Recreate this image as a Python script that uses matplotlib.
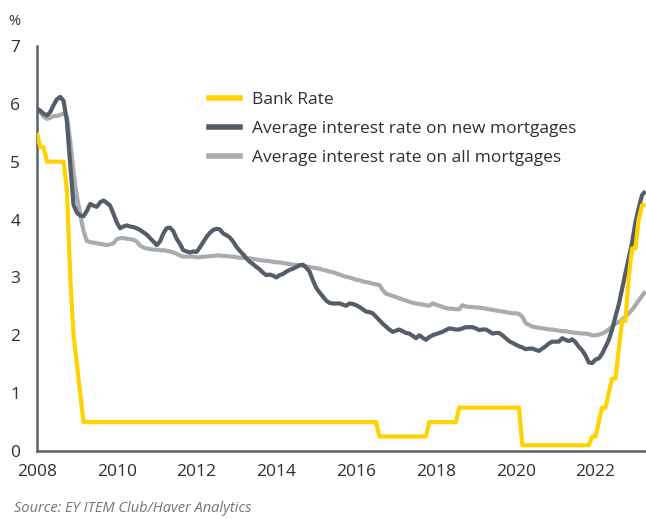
import matplotlib
matplotlib.use("Agg")
import matplotlib.pyplot as plt
import numpy as np

plt.rcParams["font.family"] = ["Open Sans", "DejaVu Sans"]

# monthly, Jan 2008 .. Apr 2023
bank_rate = (
    [5.5, 5.25, 5.25, 5.0, 5.0, 5.0, 5.0, 5.0, 5.0, 4.5, 3.0, 2.0]      # 2008
    + [1.5, 1.0] + [0.5] * 10                                          # 2009
    + [0.5] * 72                                                       # 2010-2015
    + [0.5] * 7 + [0.25] * 5                                           # 2016
    + [0.25] * 10 + [0.5] * 2                                          # 2017
    + [0.5] * 7 + [0.75] * 5                                           # 2018
    + [0.75] * 12                                                      # 2019
    + [0.75] * 2 + [0.1] * 10                                          # 2020
    + [0.1] * 11 + [0.25]                                              # 2021
    + [0.25, 0.5, 0.75, 0.75, 1.0, 1.25, 1.25, 1.75, 2.25, 2.25, 3.0, 3.5]  # 2022
    + [3.5, 4.0, 4.25, 4.25]                                           # 2023
)

new_mortgages = [
    5.92, 5.88, 5.83, 5.80, 5.86, 5.98, 6.08, 6.12, 6.05, 5.70, 4.95, 4.25,
    4.12, 4.07, 4.06, 4.15, 4.27, 4.24, 4.22, 4.30, 4.33, 4.29, 4.24, 4.10,
    3.95, 3.85, 3.88, 3.90, 3.88, 3.87, 3.85, 3.82, 3.78, 3.74, 3.68, 3.62,
    3.56, 3.62, 3.76, 3.85, 3.86, 3.80, 3.67, 3.58, 3.47, 3.45, 3.43, 3.45,
    3.44, 3.52, 3.61, 3.70, 3.77, 3.82, 3.84, 3.83, 3.76, 3.73, 3.69, 3.62,
    3.53, 3.46, 3.40, 3.33, 3.27, 3.23, 3.18, 3.14, 3.08, 3.04, 3.05, 3.03,
    3.00, 3.04, 3.06, 3.10, 3.13, 3.15, 3.18, 3.21, 3.22, 3.17, 3.10, 2.95,
    2.82, 2.74, 2.67, 2.60, 2.56, 2.55, 2.55, 2.55, 2.53, 2.51, 2.55, 2.54,
    2.52, 2.49, 2.45, 2.41, 2.40, 2.38, 2.32, 2.26, 2.20, 2.15, 2.10, 2.06,
    2.08, 2.10, 2.07, 2.04, 2.03, 1.99, 1.95, 2.00, 1.96, 1.92, 1.97, 2.00,
    2.02, 2.04, 2.06, 2.09, 2.12, 2.11, 2.10, 2.10, 2.12, 2.14, 2.14, 2.14,
    2.12, 2.09, 2.10, 2.10, 2.07, 2.03, 2.04, 2.04, 2.00, 1.95, 1.90, 1.87,
    1.84, 1.81, 1.79, 1.76, 1.77, 1.77, 1.75, 1.73, 1.77, 1.81, 1.86, 1.89,
    1.89, 1.89, 1.95, 1.92, 1.90, 1.93, 1.88, 1.80, 1.74, 1.65, 1.53, 1.52,
    1.58, 1.60, 1.68, 1.80, 1.92, 2.10, 2.32, 2.53, 2.80, 3.07, 3.33, 3.60,
    3.95, 4.20, 4.42, 4.49,
]

all_mortgages = [
    5.90, 5.85, 5.78, 5.74, 5.76, 5.79, 5.79, 5.81, 5.83, 5.78, 5.35, 4.80,
    4.40, 4.10, 3.80, 3.63, 3.61, 3.60, 3.59, 3.58, 3.57, 3.56, 3.57, 3.59,
    3.66, 3.68, 3.68, 3.67, 3.66, 3.65, 3.62, 3.55, 3.52, 3.50, 3.49, 3.48,
    3.48, 3.47, 3.47, 3.46, 3.45, 3.43, 3.41, 3.38, 3.36, 3.36, 3.36, 3.36,
    3.35, 3.35, 3.36, 3.36, 3.37, 3.37, 3.38, 3.38, 3.37, 3.37, 3.36, 3.36,
    3.35, 3.34, 3.34, 3.33, 3.33, 3.32, 3.31, 3.30, 3.29, 3.29, 3.28, 3.27,
    3.26, 3.26, 3.25, 3.24, 3.23, 3.22, 3.22, 3.21, 3.20, 3.19, 3.18, 3.17,
    3.16, 3.15, 3.13, 3.12, 3.10, 3.09, 3.07, 3.05, 3.03, 3.01, 3.00, 2.98,
    2.96, 2.95, 2.93, 2.92, 2.91, 2.89, 2.88, 2.87, 2.78, 2.72, 2.70, 2.68,
    2.66, 2.64, 2.62, 2.60, 2.58, 2.56, 2.55, 2.54, 2.53, 2.52, 2.51, 2.55,
    2.53, 2.51, 2.49, 2.47, 2.46, 2.46, 2.45, 2.45, 2.52, 2.50, 2.49, 2.49,
    2.48, 2.48, 2.47, 2.46, 2.45, 2.44, 2.43, 2.42, 2.41, 2.40, 2.39, 2.38,
    2.38, 2.37, 2.32, 2.21, 2.18, 2.15, 2.14, 2.13, 2.12, 2.11, 2.10, 2.10,
    2.09, 2.08, 2.07, 2.07, 2.06, 2.05, 2.04, 2.04, 2.03, 2.03, 2.02, 2.00,
    2.00, 2.01, 2.03, 2.06, 2.10, 2.15, 2.20, 2.23, 2.27, 2.32, 2.38, 2.44,
    2.52, 2.60, 2.68, 2.76,
]

labels = ["Bank Rate", "Average interest rate on new mortgages",
          "Average interest rate on all mortgages"]
colors = ["#ffd200", "#545d68", "#a9acaf"]
year_ticks = list(range(2008, 2024, 2))

dates = 2008 + np.arange(len(bank_rate)) / 12.0

fig = plt.figure(figsize=(6.46, 5.19), dpi=100)
ax = fig.add_axes([37 / 646, 68 / 519, 609 / 646, 405 / 519])

# draw order: all, new, bank on top
ax.plot(dates, all_mortgages, color=colors[2], lw=3.0, solid_capstyle="butt", zorder=2)
ax.plot(dates, new_mortgages, color=colors[1], lw=3.0, solid_capstyle="butt", zorder=3)
ax.plot(dates, bank_rate, color=colors[0], lw=3.0, solid_capstyle="butt", zorder=4)

ax.set_xlim(2008, 2008 + 183.2 / 12)
ax.set_ylim(0, 7)
ax.set_xticks(year_ticks)
ax.set_yticks(range(0, 8))
ax.tick_params(length=0, labelsize=12.5, colors="#2e2e38")
ax.tick_params(axis="y", pad=12)
ax.tick_params(axis="x", pad=9)

for side in ("top", "right"):
    ax.spines[side].set_visible(False)
for side in ("left", "bottom"):
    ax.spines[side].set_color("#59626c")
    ax.spines[side].set_linewidth(1.8)

handles = [plt.Line2D([], [], color=c, lw=4) for c in colors]
ax.legend(handles, labels, loc="upper left", bbox_to_anchor=(165 / 609, 0.903),
          frameon=False, fontsize=12.5, handlelength=1.8, handletextpad=0.7,
          labelspacing=0.72, labelcolor="#2e2e38", borderaxespad=0)

fig.text(8 / 646, 1 - 22 / 519, "%", fontsize=10.5, color="#2e2e38", va="center")
fig.text(14 / 646, 1 - 509 / 519, "Source: EY ITEM Club/Haver Analytics",
         fontsize=10.5, color="#747480", style="italic", va="center")

fig.savefig("out.png", dpi=100)
